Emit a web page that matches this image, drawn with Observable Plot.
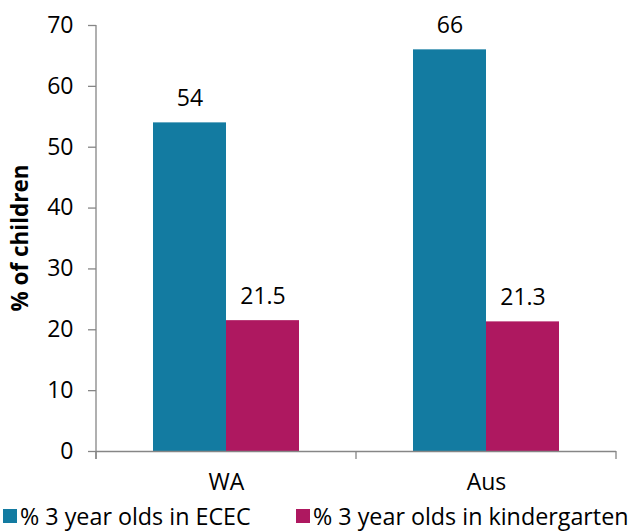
<!DOCTYPE html>
<html>
<head>
<meta charset="utf-8">
<script src="https://cdn.jsdelivr.net/npm/d3@7"></script>
<script src="https://cdn.jsdelivr.net/npm/@observablehq/plot@0.6"></script>
<style>
  html, body { margin: 0; padding: 0; background: #fff; }
  #chart { width: 630px; }
  .legend { position: relative; width: 630px; height: 31px; font-family: "Open Sans", sans-serif; font-size: 23.3px; color: #000; }
  .legend .item { position: absolute; top: 0; display: flex; align-items: center; height: 31px; white-space: nowrap; }
  .legend .sw { width: 14px; height: 14px; margin-right: 3px; }
</style>
</head>
<body>
<div id="chart"></div>
<div class="legend" id="legend"></div>
<script>
const regions = ["WA", "Aus"];
const series = ["% 3 year olds in ECEC", "% 3 year olds in kindergarten"];
const ececValues = [54, 66];
const kinderValues = [21.5, 21.3];
const yTicks = [0, 10, 20, 30, 40, 50, 60, 70];
const colors = ["#137BA1", "#AE1860"];
const yLabel = "% of children";

const rows = [];
regions.forEach((r, i) => {
  rows.push({region: r, series: series[0], value: ececValues[i]});
  rows.push({region: r, series: series[1], value: kinderValues[i]});
});

const font = "'Open Sans', sans-serif";
const fs = 23;
const chart = Plot.plot({
  width: 630,
  height: 500,
  marginLeft: 96,
  marginRight: 14,
  marginTop: 25,
  marginBottom: 49,
  style: {fontFamily: font, fontSize: fs + "px", color: "#000", background: "#fff"},
  fx: {domain: regions, padding: 0, label: null, axis: null},
  x: {domain: series, paddingInner: 0, paddingOuter: 0.757, axis: null},
  y: {domain: [0, 70], axis: null},
  color: {domain: series, range: colors},
  marks: [
    Plot.barY(rows, {fx: "region", x: "series", y: "value", fill: "series"}),
    Plot.text(rows, {fx: "region", x: "series", y: "value", text: d => String(d.value), dy: -24, fontSize: fs, fill: "#000"}),
    Plot.ruleY([0], {stroke: "#868686", strokeWidth: 1.3}),
    Plot.axisY({ticks: yTicks, tickSize: 8, tickPadding: 15, stroke: "#868686", strokeWidth: 1.3, fill: "#000", label: null, fontSize: fs}),
    Plot.axisFx({domain: regions, anchor: "bottom", tickSize: 0, tickPadding: 22, label: null, fontSize: fs, fill: "#000"})
  ]
});
document.getElementById("chart").appendChild(chart);

// Excel-style axis line and category boundary ticks, from Plot's scales
const svg = d3.select(chart);
const fx = chart.scale("fx");
const y = chart.scale("y");
const y0 = y.apply(0), yTop = y.apply(70);
const left = fx.apply(regions[0]);
const edges = [left].concat(regions.map(r => fx.apply(r) + fx.bandwidth));
svg.append("line").attr("x1", left).attr("x2", left).attr("y1", yTop).attr("y2", y0 + 8)
  .attr("stroke", "#868686").attr("stroke-width", 1.3);
edges.forEach(e => {
  svg.append("line").attr("x1", e).attr("x2", e).attr("y1", y0).attr("y2", y0 + 8)
    .attr("stroke", "#868686").attr("stroke-width", 1.3);
});
svg.append("text")
  .attr("transform", `translate(22,${(y0 + yTop) / 2}) rotate(-90)`)
  .attr("text-anchor", "middle").attr("dominant-baseline", "middle")
  .attr("font-family", font).attr("font-size", 22.5).attr("font-weight", "bold").attr("fill", "#000")
  .text(yLabel);

// Legend
const legend = d3.select("#legend");
const lx = [3, 296];
series.forEach((s, i) => {
  const it = legend.append("div").attr("class", "item").style("left", lx[i] + "px");
  it.append("div").attr("class", "sw").style("background", colors[i]);
  it.append("span").text(s);
});
</script>
</body>
</html>
